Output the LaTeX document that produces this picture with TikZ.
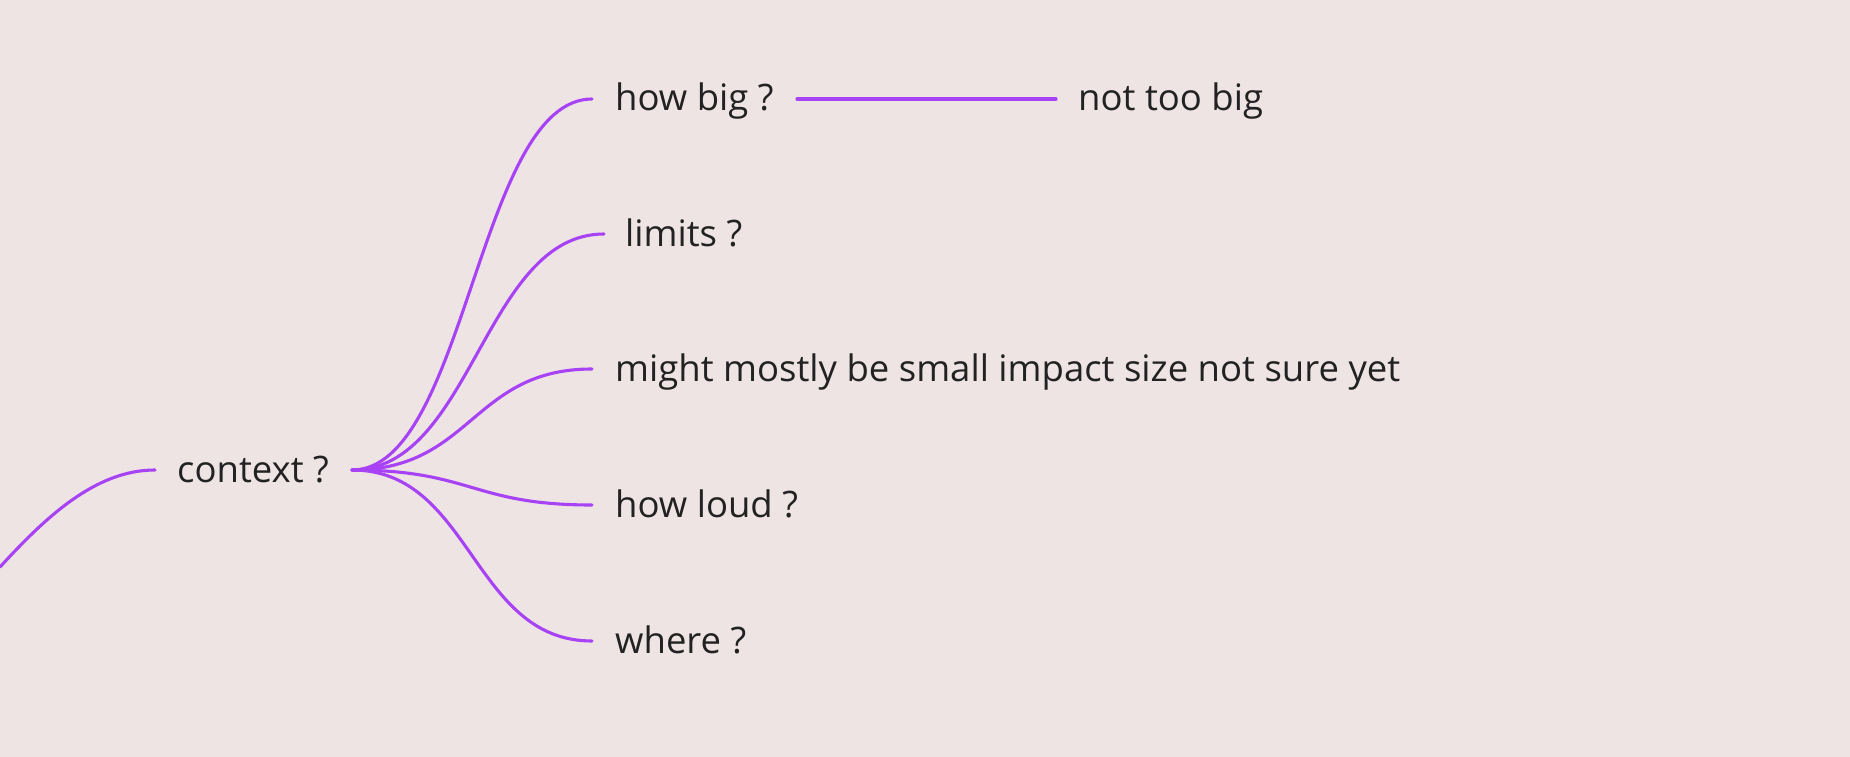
\documentclass[tikz,border=0pt]{standalone}
\usepackage{fontspec}
\setmainfont{Open Sans}
\definecolor{bg}{HTML}{EEE4E4}
\definecolor{branch}{HTML}{A742F5}
\definecolor{ink}{HTML}{222222}
\begin{document}
\begin{tikzpicture}[x=1pt,y=-1pt,
  lbl/.style={anchor=base west,inner sep=0pt,text=ink,font=\fontsize{36.5}{44}\selectfont},
  link/.style={draw=branch,line width=3.1pt,line cap=round}]
\useasboundingbox[fill=bg] (0,0) rectangle (1850,757);
% nodes
\node[lbl] (context) at (177,482) {context ?};
\node[lbl] (big) at (615,111) {how big ?};
\node[lbl] (nottoo) at (1078,111) {not too big};
\node[lbl] (limits) at (625,246) {limits ?};
\node[lbl] (might) at (615,381) {might mostly be small impact size not sure yet};
\node[lbl] (loud) at (615,517) {how loud ?};
\node[lbl] (where) at (615,653) {where ?};
% anchor points of connectors
\coordinate (root) at (0,567);
\coordinate (ctxin) at (155,470);
\coordinate (hub) at (352,470);
\coordinate (bigin) at (592,99);
\coordinate (bigout) at (797,99);
\coordinate (notin) at (1056,99);
\coordinate (limin) at (604,234);
\coordinate (mightin) at (592,369);
\coordinate (loudin) at (592,505);
\coordinate (wherein) at (592,641);
% connectors
\draw[link] (root) .. controls (45,518) and (95,470) .. (ctxin);
\draw[link] (hub) .. controls (466,470) and (478,99) .. (bigin);
\draw[link] (hub) .. controls (472,470) and (484,234) .. (limin);
\draw[link] (hub) .. controls (472,470) and (472,369) .. (mightin);
\draw[link] (hub) .. controls (472,470) and (472,505) .. (loudin);
\draw[link] (hub) .. controls (472,470) and (472,641) .. (wherein);
\draw[link] (bigout) -- (notin);
\end{tikzpicture}
\end{document}
